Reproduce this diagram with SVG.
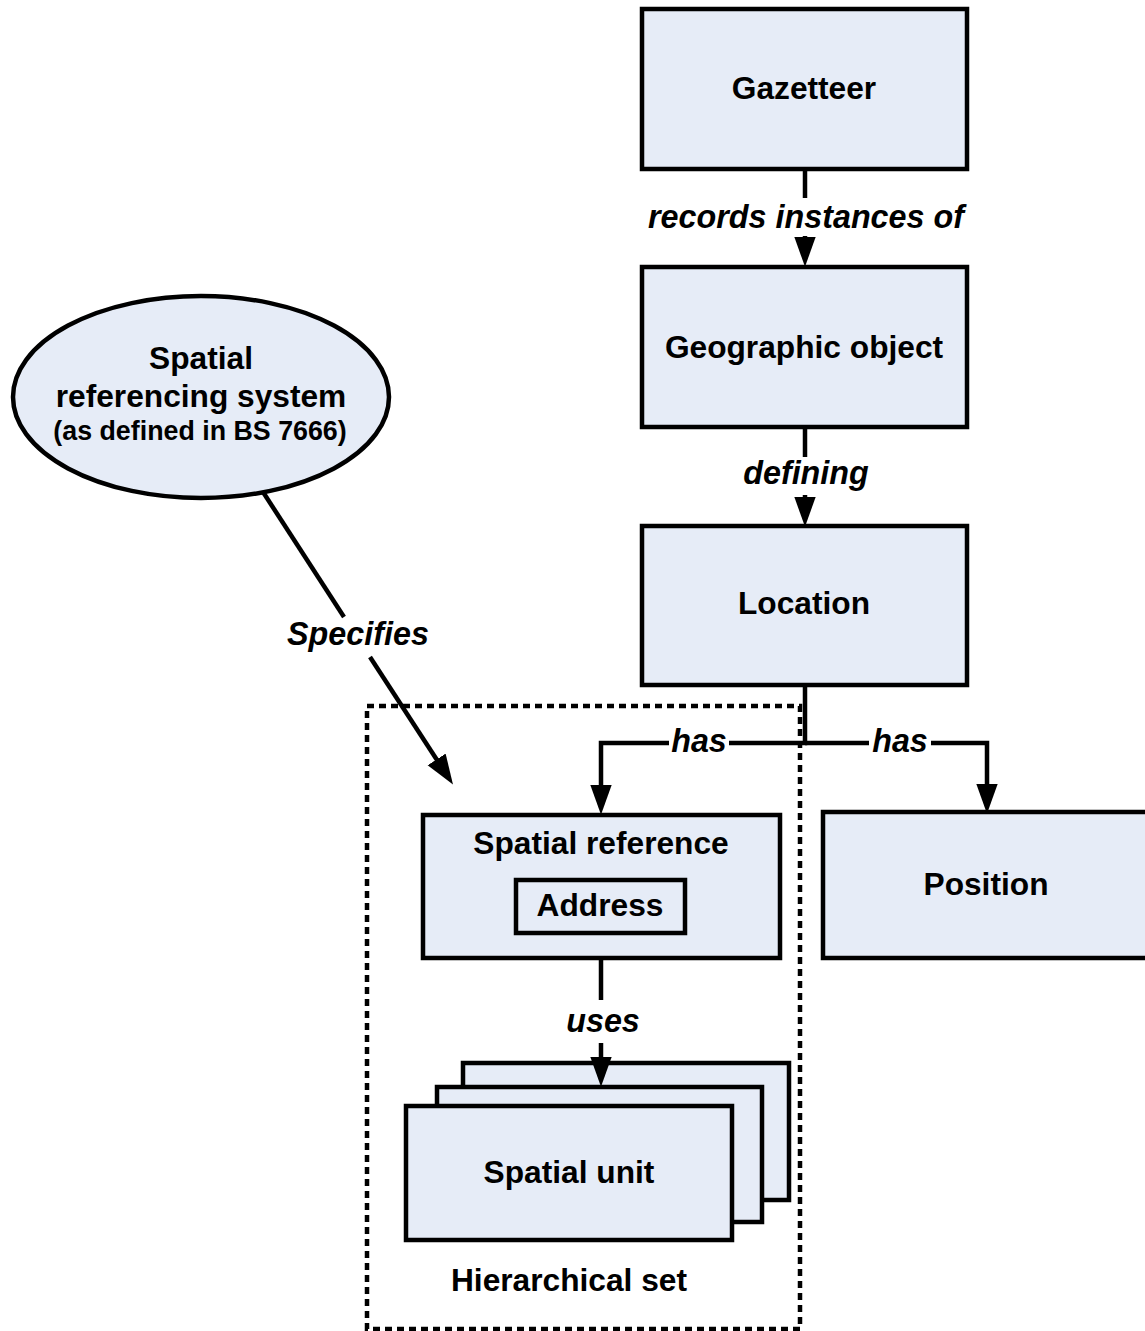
<svg xmlns="http://www.w3.org/2000/svg" width="1145" height="1331" viewBox="0 0 1145 1331">
<style>
.box{fill:#E6ECF7;stroke:#000;stroke-width:4.5;stroke-linejoin:miter}
.t{font-family:"Liberation Sans",Arial,sans-serif;font-weight:bold;font-size:31.7px;text-anchor:middle;fill:#000}
.s{font-size:26.8px}
.lbl{font-family:"Liberation Sans",Arial,sans-serif;font-weight:bold;font-style:italic;font-size:32.3px;text-anchor:middle;fill:#000}
.c{fill:none;stroke:#000;stroke-width:4.5}
.dash{fill:none;stroke:#000;stroke-width:4.5;stroke-dasharray:7 5}
</style>
<defs>
<marker id="ah" markerUnits="userSpaceOnUse" markerWidth="30" markerHeight="22" viewBox="0 0 28 20" refX="2" refY="10" orient="auto">
<path d="M0,0 L28,10 L0,20 z" fill="#000"/>
</marker>
</defs>
<rect width="1145" height="1331" fill="#fff"/>

<g id="hierarchical-set">
<rect class="dash" x="367" y="706" width="433" height="623"/>
<text class="t" x="569" y="1291">Hierarchical set</text>
</g>

<g id="gazetteer">
<rect class="box" x="642" y="9" width="325" height="160"/>
<text class="t" x="804" y="99">Gazetteer</text>
</g>

<g id="geographic-object">
<rect class="box" x="642" y="267" width="325" height="160"/>
<text class="t" x="804" y="358">Geographic object</text>
</g>

<g id="location">
<rect class="box" x="642" y="526" width="325" height="159"/>
<text class="t" x="804" y="614">Location</text>
</g>

<g id="spatial-referencing-system">
<ellipse class="box" cx="201" cy="397" rx="188" ry="101"/>
<text class="t" x="201" y="369">Spatial</text>
<text class="t" x="201" y="407">referencing system</text>
<text class="t s" x="200" y="440">(as defined in BS 7666)</text>
</g>

<g id="spatial-reference">
<rect class="box" x="423" y="815" width="357" height="143"/>
<text class="t" x="601" y="854">Spatial reference</text>
</g>

<g id="address">
<rect class="box" x="516" y="880" width="169" height="53"/>
<text class="t" x="600" y="916">Address</text>
</g>

<g id="position">
<rect class="box" x="823" y="812" width="326" height="146"/>
<text class="t" x="986" y="895">Position</text>
</g>

<g id="spatial-unit">
<rect class="box" x="463" y="1063" width="326" height="137"/>
<rect class="box" x="437" y="1087" width="325" height="135"/>
<rect class="box" x="406" y="1106" width="326" height="134"/>
<text class="t" x="569" y="1183">Spatial unit</text>
</g>

<g id="connectors">
<path class="c" d="M805,169 V198"/>
<path class="c" d="M805,236 V239" marker-end="url(#ah)"/>
<text class="lbl" x="806" y="228">records instances of</text>

<path class="c" d="M805,427 V457"/>
<path class="c" d="M805,495 V499" marker-end="url(#ah)"/>
<text class="lbl" x="806" y="484">defining</text>

<path class="c" d="M805,685 V743 H729"/>
<path class="c" d="M669,743 H601 V787" marker-end="url(#ah)"/>
<text class="lbl" x="699" y="752">has</text>
<path class="c" d="M805,743 H869"/>
<path class="c" d="M931,743 H987 V786" marker-end="url(#ah)"/>
<text class="lbl" x="900" y="752">has</text>

<path class="c" d="M601,958 V1000"/>
<path class="c" d="M601,1043 V1059" marker-end="url(#ah)"/>
<text class="lbl" x="603" y="1032">uses</text>

<path class="c" d="M263,492 L344,617"/>
<path class="c" d="M370,657 L437.8,761.2" marker-end="url(#ah)"/>
<text class="lbl" x="358" y="645">Specifies</text>
</g>
</svg>
